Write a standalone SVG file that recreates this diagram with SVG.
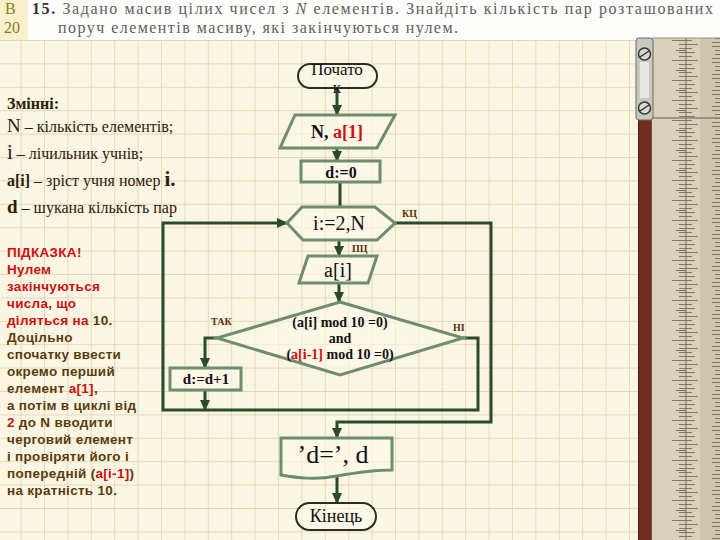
<svg xmlns="http://www.w3.org/2000/svg" width="720" height="540" viewBox="0 0 720 540">
<defs>
<pattern id="grid" patternUnits="userSpaceOnUse" x="20.6" y="40" width="23.4" height="23.4">
<path d="M0,0 H23.4 M0,0 V23.4" fill="none" stroke="#e8d6b8" stroke-width="1.8"/>
</pattern>
<pattern id="ticksL" patternUnits="userSpaceOnUse" x="652" y="40" width="34" height="20">
<path d="M20,0.5 H34 M27,4.5 H34 M27,8.5 H34 M27,12.5 H34 M27,16.5 H34 M24,10.5 H34" stroke="#6a6050" stroke-width="0.8"/>
</pattern>
<pattern id="ticksR" patternUnits="userSpaceOnUse" x="686" y="44" width="34" height="16">
<path d="M0,0.5 H12 M0,4.5 H6 M0,8.5 H9 M0,12.5 H6 M26,2.5 H34 M29,6.5 H34 M29,10.5 H34 M26,14.5 H34" stroke="#6a6050" stroke-width="0.8"/>
</pattern>
<marker id="arr" markerUnits="userSpaceOnUse" markerWidth="12" markerHeight="12" refX="10" refY="6" orient="auto">
<path d="M0,1 L11,6 L0,11 Z" fill="#2b4a2b"/>
</marker>
<style>
.con{fill:none;stroke:#2b4a2b;stroke-width:3}
.shp{fill:#fdf9ea;fill-opacity:0.6;stroke:#6d8e6d;stroke-width:3}
.term{fill:#fdf9ea;fill-opacity:0.6;stroke:#25301f;stroke-width:2}
.ser{font-family:"Liberation Serif","DejaVu Serif",serif;fill:#111}
.b{font-weight:bold}
.lbl{font-family:"Liberation Serif","DejaVu Serif",serif;font-weight:bold;fill:#5a2e08;font-size:10px}
.var{font-family:"Liberation Serif","DejaVu Serif",serif;fill:#2b2008;font-size:16px}
.hint{font-family:"Liberation Sans","Arial",sans-serif;font-weight:bold;font-size:13.5px;fill:#5a3c0c;letter-spacing:0.3px}
.red{fill:#cc1010}
</style>
</defs>
<rect x="0" y="0" width="720" height="540" fill="#fbf6e3"/>
<rect x="0" y="40" width="720" height="500" fill="url(#grid)"/>
<rect x="0" y="0" width="720" height="40" fill="#fdfdfb"/>
<rect x="0" y="0" width="28" height="40" fill="#f8f1cc"/>
<text x="5" y="14" font-family="Liberation Serif,serif" font-size="16" fill="#8c7a1e">В</text>
<text x="4" y="33" font-family="Liberation Serif,serif" font-size="16" fill="#8c7a1e">20</text>
<text x="32" y="14" font-family="Liberation Serif,serif" font-size="16" fill="#5e5e5e" textLength="681" lengthAdjust="spacing"><tspan font-weight="bold" fill="#333">15.</tspan> Задано масив цілих чисел з <tspan font-style="italic">N</tspan> елементів. Знайдіть кількість пар розташованих</text>
<text x="58" y="33" font-family="Liberation Serif,serif" font-size="16" fill="#5e5e5e" textLength="400" lengthAdjust="spacing">поруч елементів масиву, які закінчуються нулем.</text>

<g id="sliderule">
<rect x="652" y="38" width="68" height="502" fill="#d8d1bb"/>
<rect x="700" y="38" width="20" height="502" fill="#cfc7ae"/>
<rect x="652" y="38" width="34" height="502" fill="url(#ticksL)"/>
<rect x="686" y="38" width="34" height="502" fill="url(#ticksR)"/>
<line x1="686" y1="38" x2="686" y2="540" stroke="#7a7060" stroke-width="1"/>
<line x1="652" y1="118" x2="720" y2="118" stroke="#8a8070" stroke-width="1.5"/>
<line x1="652" y1="38" x2="720" y2="38" stroke="#9a9080" stroke-width="1"/>
<rect x="638" y="118" width="14" height="422" fill="#6e2f20"/>
<line x1="638.5" y1="118" x2="638.5" y2="540" stroke="#4a1e12" stroke-width="1"/>
<line x1="651.5" y1="118" x2="651.5" y2="540" stroke="#8a4a35" stroke-width="1"/>
<rect x="636" y="38" width="17" height="82" rx="3" fill="#c9c8c0" stroke="#6a6a60" stroke-width="1"/>
<rect x="640" y="62" width="9" height="36" fill="#e8e8e2"/>
<circle cx="644.5" cy="54" r="6" fill="#d8d8d0" stroke="#333" stroke-width="1.5"/>
<line x1="640" y1="57" x2="649" y2="51" stroke="#333" stroke-width="1.5"/>
<circle cx="644.5" cy="108" r="6" fill="#d8d8d0" stroke="#333" stroke-width="1.5"/>
<line x1="640" y1="111" x2="649" y2="105" stroke="#333" stroke-width="1.5"/>
</g>

<g id="variables">
<text x="7" y="109" class="var b">Змінні:</text>
<text x="7" y="132" class="var"><tspan font-size="19">N</tspan> – кількість елементів;</text>
<text x="7" y="159" class="var"><tspan font-size="21">i</tspan> – лічильник учнів;</text>
<text x="7" y="186" class="var"><tspan class="b">a[i]</tspan> – зріст учня номер <tspan font-size="21" class="b">i.</tspan></text>
<text x="7" y="213" class="var"><tspan font-size="19" class="b">d</tspan> – шукана кількість пар</text>
</g>

<g id="hint">
<text x="7" y="257" class="hint red">ПІДКАЗКА!</text>
<text x="7" y="274" class="hint red">Нулем</text>
<text x="7" y="291" class="hint red">закінчуються</text>
<text x="7" y="308" class="hint red">числа, що</text>
<text x="7" y="325" class="hint"><tspan class="red">діляться на</tspan> 10.</text>
<text x="7" y="342" class="hint">Доцільно</text>
<text x="7" y="359" class="hint">спочатку ввести</text>
<text x="7" y="376" class="hint">окремо перший</text>
<text x="7" y="393" class="hint">елемент <tspan class="red">a[1]</tspan>,</text>
<text x="7" y="410" class="hint">а потім в циклі від</text>
<text x="7" y="427" class="hint"><tspan class="red">2</tspan> до N вводити</text>
<text x="7" y="444" class="hint">черговий елемент</text>
<text x="7" y="461" class="hint">і провіряти його і</text>
<text x="7" y="478" class="hint">попередній (<tspan class="red">a[i-1]</tspan>)</text>
<text x="7" y="495" class="hint">на кратність 10.</text>
</g>

<g id="connectors">
<line x1="337" y1="88" x2="337" y2="115" class="con" marker-end="url(#arr)"/>
<line x1="337" y1="148" x2="337" y2="161" class="con" marker-end="url(#arr)"/>
<line x1="340" y1="182" x2="340" y2="207" class="con"/>
<line x1="339" y1="240" x2="339" y2="256" class="con" marker-end="url(#arr)"/>
<line x1="339" y1="283" x2="339" y2="302" class="con" marker-end="url(#arr)"/>
<polyline points="217,338 205,338 205,368" class="con" marker-end="url(#arr)"/>
<line x1="205" y1="390" x2="205" y2="410" class="con" marker-end="url(#arr)"/>
<polyline points="463,338 478,338 478,410 163,410 163,223 287,223" class="con" marker-end="url(#arr)"/>
<polyline points="395,223 491,223 491,422 337,422 337,438" class="con" marker-end="url(#arr)"/>
<line x1="337" y1="477" x2="337" y2="503" class="con" marker-end="url(#arr)"/>
</g>

<g id="start">
<rect x="298" y="64" width="79" height="24" rx="12" class="term"/>
<text x="337" y="75" class="ser" font-size="17" text-anchor="middle">Почато</text>
<text x="337" y="93" class="ser" font-size="17" text-anchor="middle">к</text>
</g>
<g id="input1">
<polygon points="295,115 395,115 377,148 280,148" class="shp"/>
<text x="337" y="138" class="ser b" font-size="18" text-anchor="middle">N, <tspan class="red">a[1]</tspan></text>
</g>
<g id="init">
<rect x="301" y="161" width="79" height="21" class="shp"/>
<text x="341" y="178" class="ser b" font-size="16" text-anchor="middle">d:=0</text>
</g>
<g id="loop">
<polygon points="287,223 302,207 375,207 395,223 377,240 303,240" class="shp"/>
<text x="339" y="230" class="ser" font-size="20" text-anchor="middle">i:=2,N</text>
<text x="402" y="217" class="lbl" font-size="11">КЦ</text>
<text x="352" y="252" class="lbl" font-size="11">ПЦ</text>
</g>
<g id="input2">
<polygon points="308,256 377,256 368,283 299,283" class="shp"/>
<text x="338" y="277" class="ser" font-size="20" text-anchor="middle">a[i]</text>
</g>
<g id="condition">
<polygon points="340,302 463,338 340,375 217,338" class="shp"/>
<text x="340" y="327" class="ser b" font-size="14" text-anchor="middle">(a[i] mod 10 =0)</text>
<text x="340" y="343" class="ser b" font-size="14" text-anchor="middle">and</text>
<text x="340" y="359" class="ser b" font-size="14" text-anchor="middle">(<tspan class="red">a[i-1]</tspan> mod 10 =0)</text>
<text x="211" y="325" class="lbl">ТАК</text>
<text x="453" y="331" class="lbl">НІ</text>
</g>
<g id="increment">
<rect x="170" y="368" width="71" height="22" class="shp"/>
<text x="206" y="384" class="ser b" font-size="15" text-anchor="middle">d:=d+1</text>
</g>
<g id="output">
<path d="M281,438 H392 V470 C378,470 360,472 337,476 C315,480 298,478 281,475 Z" class="shp"/>
<text x="333" y="463" class="ser" font-size="26" text-anchor="middle">’d=’, d</text>
</g>
<g id="end">
<rect x="296" y="503" width="80" height="27" rx="13.5" class="term"/>
<text x="336" y="522" class="ser" font-size="18" text-anchor="middle">Кінець</text>
</g>
</svg>
